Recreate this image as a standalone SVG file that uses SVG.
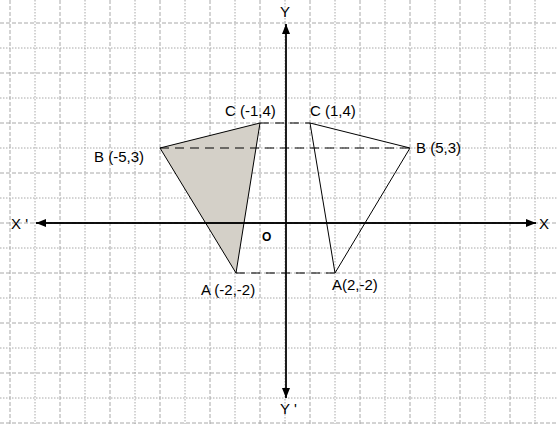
<svg xmlns="http://www.w3.org/2000/svg" width="558" height="424" viewBox="0 0 558 424">
<style>
.gd{stroke:#a8a8a8;stroke-width:1;stroke-dasharray:4 2;fill:none}
.gt{stroke:#a8a8a8;stroke-width:1;stroke-dasharray:1.5 1.5;fill:none}
.ax{stroke:#000;stroke-width:1.3;fill:none}
.ol{stroke:#000;stroke-width:1;fill:none}
.dl{stroke:#000;stroke-width:1;stroke-dasharray:9 6;fill:none}
text{font-family:"Liberation Sans",Arial,sans-serif;font-size:15px;fill:#000}
</style>
<defs>
<marker id="ah" markerWidth="10" markerHeight="8" refX="10" refY="4" orient="auto" markerUnits="userSpaceOnUse">
<path d="M0,0 L10,4 L0,8 Z" fill="#000"/>
</marker>
</defs>
<rect width="558" height="424" fill="#fff"/>
<g id="grid">
<path class="gd" d="M10,0V424M60,0V424M110,0V424M160,0V424M210,0V424M260,0V424M310,0V424M360,0V424M410,0V424M460,0V424M510,0V424"/>
<path class="gt" d="M35,0V424M85,0V424M135,0V424M185,0V424M235,0V424M285,0V424M335,0V424M385,0V424M435,0V424M485,0V424M535,0V424"/>
<path class="gd" d="M0,23H558M0,73H558M0,123H558M0,173H558M0,223H558M0,273H558M0,323H558M0,373H558M0,423H558"/>
<path class="gt" d="M0,48H558M0,98H558M0,148H558M0,198H558M0,248H558M0,298H558M0,348H558M0,398H558"/>
</g>
<g id="shaded-triangle">
<polygon points="160,148 260,123 236,273" fill="#d4d0c8" stroke="#000" stroke-width="1"/>
</g>
<g id="right-triangle">
<polygon points="310,123 410,148 335,273" class="ol"/>
</g>
<g id="connectors">
<line class="ax" x1="286" y1="398" x2="286" y2="24" marker-end="url(#ah)"/>
<line class="ax" x1="286" y1="24" x2="286" y2="398" marker-end="url(#ah)"/>
<line class="ax" x1="36" y1="223" x2="536" y2="223" marker-end="url(#ah)"/>
<line class="ax" x1="536" y1="223" x2="36" y2="223" marker-end="url(#ah)"/>
<line class="dl" x1="260" y1="123" x2="310" y2="123"/>
<line class="dl" x1="160" y1="148" x2="410" y2="148"/>
<line class="dl" x1="236" y1="273" x2="335" y2="273"/>
</g>
<g id="labels">
<text x="225" y="116">C (-1,4)</text>
<text x="310" y="116">C (1,4)</text>
<text x="94" y="162">B (-5,3)</text>
<text x="416" y="153">B (5,3)</text>
<text x="201" y="295">A (-2,-2)</text>
<text x="332" y="290">A(2,-2)</text>
<text x="262" y="241" style="font-weight:bold;font-size:12px">O</text>
<text x="11" y="229">X '</text>
<text x="539" y="229">X</text>
<text x="280" y="17">Y</text>
<text x="280" y="414">Y '</text>
</g>
</svg>
